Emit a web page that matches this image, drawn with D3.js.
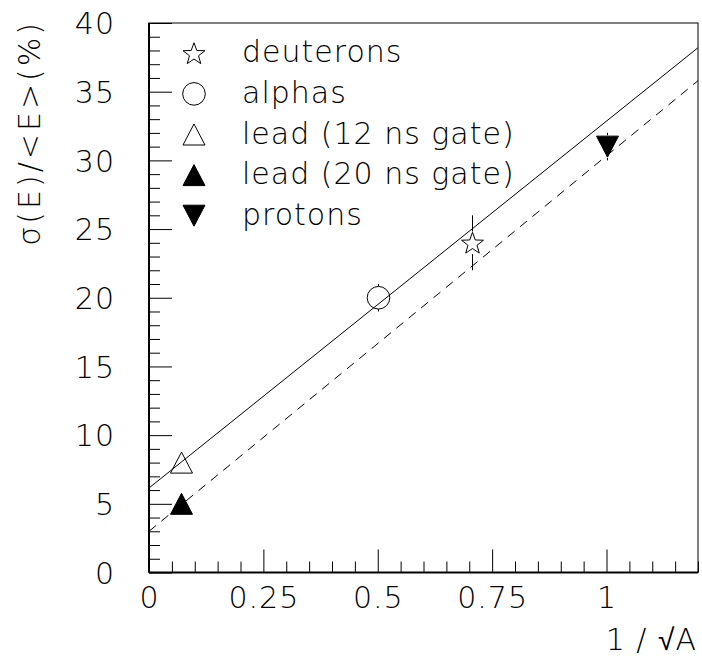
<!DOCTYPE html>
<html><head><meta charset="utf-8">
<script src="https://cdn.jsdelivr.net/npm/d3@7"></script>
<style>
body{margin:0;background:#fff;}
svg text{font-family:"DejaVu Sans",sans-serif;font-weight:200;fill:#000;}
</style></head><body>
<svg id="chart" width="702" height="664"></svg>
<script>
// ---- data ----
const seriesNames = ["deuterons", "alphas", "lead (12 ns gate)", "lead (20 ns gate)", "protons"];
const markerTypes = ["star", "circle", "triangle", "triangleFilled", "triangleDownFilled"];
const xValues = [0.707, 0.5, 0.0695, 0.0695, 1.0];
const yValues = [24.0, 20.0, 8.0, 5.0, 31.0];
const yErrors = [2.0, 1.0, 0, 0, 1.0];
const fitX = [0, 1.2];
const fitSolidY = [6.15, 38.2];
const fitDashedY = [3.0, 35.8];
const xMajorTicks = [0, 0.25, 0.5, 0.75, 1];
const xTickLabels = ["0", "0.25", "0.5", "0.75", "1"];
const yMajorTicks = [0, 5, 10, 15, 20, 25, 30, 35, 40];
const yTickLabels = ["0", "5", "10", "15", "20", "25", "30", "35", "40"];
const xTitle = "1 / √A";
const yTitle = "σ(E)/<E>(%)";

// ---- layout ----
const svg = d3.select("#chart");
const L = 149, R = 698, T = 23, B = 572.5;
const x = d3.scaleLinear().domain([0, 1.2]).range([L, R]);
const y = d3.scaleLinear().domain([0, 40]).range([B, T]);
const FS = 30;

// minor ticks
const xMinor = d3.range(0, 1.2001, 0.05).filter(v => !xMajorTicks.some(m => Math.abs(m - v) < 1e-6));
const yMinor = d3.range(0, 40.001, 1).filter(v => v % 5 !== 0);

const gx = svg.append("g").attr("transform", `translate(0,${B})`);
gx.call(d3.axisBottom(x).tickValues(xMinor).tickSizeInner(-11).tickSizeOuter(0).tickFormat(""));
const gx2 = svg.append("g").attr("transform", `translate(0,${B})`);
gx2.call(d3.axisBottom(x).tickValues(xMajorTicks).tickSizeInner(-23).tickSizeOuter(0)
  .tickPadding(14).tickFormat((d, i) => xTickLabels[i]));
const gy = svg.append("g").attr("transform", `translate(${L},0)`);
gy.call(d3.axisLeft(y).tickValues(yMinor).tickSizeInner(-11).tickSizeOuter(0).tickFormat(""));
const gy2 = svg.append("g").attr("transform", `translate(${L},0)`);
gy2.call(d3.axisLeft(y).tickValues(yMajorTicks).tickSizeInner(-23).tickSizeOuter(0)
  .tickPadding(34).tickFormat((d, i) => yTickLabels[i]));
svg.selectAll(".domain").remove();
svg.selectAll(".tick line").attr("stroke", "#000").attr("stroke-width", 1);
svg.selectAll(".tick text").attr("font-size", FS).attr("font-family", "DejaVu Sans")
  .attr("font-weight", 200).attr("letter-spacing", 1).attr("fill", "#000");
gy2.selectAll(".tick text").attr("dy", "0.36em");

// frame
svg.append("rect").attr("x", L).attr("y", T).attr("width", R - L).attr("height", B - T)
  .attr("fill", "none").attr("stroke", "#000").attr("stroke-width", 1);
svg.append("line").attr("x1", L).attr("x2", R).attr("y1", B).attr("y2", B).attr("stroke", "#000").attr("stroke-width", 2);
svg.append("line").attr("x1", L).attr("x2", L).attr("y1", T).attr("y2", B).attr("stroke", "#000").attr("stroke-width", 2);

// clip
svg.append("clipPath").attr("id", "clip").append("rect")
  .attr("x", L).attr("y", T).attr("width", R - L).attr("height", B - T);
const plot = svg.append("g").attr("clip-path", "url(#clip)");

const line = d3.line().x(d => x(d[0])).y(d => y(d[1]));
plot.append("path").datum(fitX.map((v, i) => [v, fitSolidY[i]]))
  .attr("d", line).attr("fill", "none").attr("stroke", "#000").attr("stroke-width", 1);
plot.append("path").datum(fitX.map((v, i) => [v, fitDashedY[i]]))
  .attr("d", line).attr("fill", "none").attr("stroke", "#000").attr("stroke-width", 1)
  .attr("stroke-dasharray", "9 7");

// markers
const MS = 11.3;
function markerPath(type) {
  const p = d3.path();
  if (type === "star") {
    const ri = MS * 0.42;
    for (let i = 0; i < 10; i++) {
      const a = -Math.PI / 2 + i * Math.PI / 5;
      const r = i % 2 === 0 ? MS * 1.02 : ri;
      const px = r * Math.cos(a), py = r * Math.sin(a) + 1;
      if (i === 0) p.moveTo(px, py); else p.lineTo(px, py);
    }
    p.closePath();
  } else if (type === "circle") {
    p.arc(0, 0, MS, 0, 2 * Math.PI);
  } else if (type === "triangle" || type === "triangleFilled") {
    p.moveTo(0, -10.5); p.lineTo(11, 10.5); p.lineTo(-11, 10.5); p.closePath();
  } else {
    p.moveTo(0, 10.5); p.lineTo(11, -10.5); p.lineTo(-11, -10.5); p.closePath();
  }
  return p.toString();
}
const filled = t => t.endsWith("Filled");

const pts = seriesNames.map((n, i) => ({ n, t: markerTypes[i], x: xValues[i], y: yValues[i], e: yErrors[i] }));
// error bars (outside marker)
pts.filter(d => d.e > 0).forEach(d => {
  const cx = Math.round(x(d.x)) + 0.5, cy = y(d.y);
  plot.append("line").attr("x1", cx).attr("x2", cx).attr("y1", y(d.y + d.e)).attr("y2", cy - MS)
    .attr("stroke", "#000").attr("stroke-width", 1);
  plot.append("line").attr("x1", cx).attr("x2", cx).attr("y1", cy + MS).attr("y2", y(d.y - d.e))
    .attr("stroke", "#000").attr("stroke-width", 1);
});
plot.selectAll("path.mk").data(pts).join("path").attr("class", "mk")
  .attr("transform", d => `translate(${Math.round(x(d.x)) + 0.5},${y(d.y)})`)
  .attr("d", d => markerPath(d.t))
  .attr("fill", d => filled(d.t) ? "#000" : "none")
  .attr("stroke", "#000").attr("stroke-width", 1);

// legend
const legY = d3.scaleBand().domain(seriesNames).range([33, 236]);
const leg = svg.append("g");
leg.selectAll("path").data(pts).join("path")
  .attr("transform", d => `translate(194,${legY(d.n) + legY.bandwidth() / 2})`)
  .attr("d", d => markerPath(d.t))
  .attr("fill", d => filled(d.t) ? "#000" : "none")
  .attr("stroke", "#000").attr("stroke-width", 1);
leg.selectAll("text").data(pts).join("text")
  .attr("x", 242).attr("y", d => legY(d.n) + legY.bandwidth() / 2 + 9)
  .attr("font-size", FS).attr("letter-spacing", 1).text(d => d.n);

// axis titles
svg.append("text").attr("x", 697).attr("y", 650).attr("text-anchor", "end")
  .attr("font-size", FS).attr("letter-spacing", 1).text(xTitle);
svg.append("text").attr("transform", "translate(39.5,20) rotate(-90)").attr("text-anchor", "end")
  .attr("font-size", FS).attr("letter-spacing", 3).text(yTitle);
</script></body></html>
